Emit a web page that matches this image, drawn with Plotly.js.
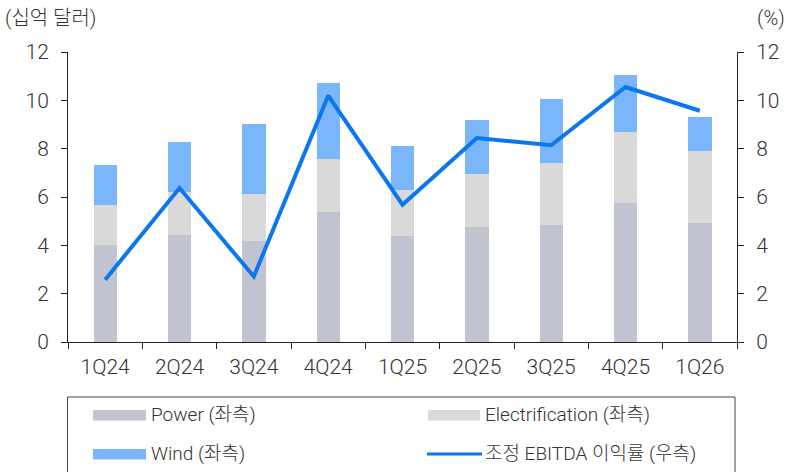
<!DOCTYPE html>
<html>
<head>
<meta charset="utf-8">
<script src="https://cdn.plot.ly/plotly-3.0.1.min.js"></script>
<style>html,body{margin:0;padding:0;background:#fff;}#chart{width:789px;height:472px;}</style>
</head>
<body>
<div id="chart"></div>
<script>
// ---- data ----
const categories = ['1Q24','2Q24','3Q24','4Q24','1Q25','2Q25','3Q25','4Q25','1Q26'];
const power = [4.00, 4.44, 4.19, 5.40, 4.40, 4.77, 4.85, 5.76, 4.94];
const electrification = [1.68, 1.78, 1.95, 2.18, 1.87, 2.18, 2.57, 2.93, 2.98];
const wind = [1.63, 2.07, 2.88, 3.12, 1.85, 2.22, 2.65, 2.36, 1.41];
const ebitdaMargin = [2.58, 6.37, 2.71, 10.19, 5.68, 8.44, 8.14, 10.55, 9.57];
const yTicks = [0, 2, 4, 6, 8, 10, 12];
const seriesNames = ['Power (좌측)', 'Electrification (좌측)', 'Wind (좌측)', '조정 EBITDA 이익률 (우측)'];
const leftTitle = '(십억 달러)';
const rightTitle = '(%)';

// ---- style ----
const FONT = 'Roboto, "Noto Sans CJK KR", "Noto Sans", sans-serif';
const TXT = '#333333';
const colors = {power: '#c1c4d0', elec: '#d9d9d9', wind: '#7ab6f9', line: '#0b77ef'};

const W = 789, H = 472;
const M = {l: 68, r: 52, t: 52, b: 130};
const PW = W - M.l - M.r, PH = H - M.t - M.b;
const px = x => (x - M.l) / PW;
const py = y => (H - M.b - y) / PH;

const traces = [
  {type: 'bar', x: categories, y: power, name: seriesNames[0], marker: {color: colors.power}, hoverinfo: 'y'},
  {type: 'bar', x: categories, y: electrification, name: seriesNames[1], marker: {color: colors.elec}, hoverinfo: 'y'},
  {type: 'bar', x: categories, y: wind, name: seriesNames[2], marker: {color: colors.wind}, hoverinfo: 'y'},
  {type: 'scatter', mode: 'lines', x: categories, y: ebitdaMargin, name: seriesNames[3], yaxis: 'y2',
   line: {color: colors.line, width: 4}, hoverinfo: 'y'}
];

// custom legend (two columns, wide swatches)
const shapes = [
  {type: 'rect', xref: 'paper', yref: 'paper', x0: px(67.5), x1: px(735), y0: py(397), y1: py(480),
   line: {color: '#444', width: 1}, fillcolor: 'rgba(0,0,0,0)'},
  {type: 'rect', xref: 'paper', yref: 'paper', x0: px(93), x1: px(146), y0: py(410), y1: py(420.5), line: {width: 0}, fillcolor: colors.power},
  {type: 'rect', xref: 'paper', yref: 'paper', x0: px(428), x1: px(480), y0: py(410), y1: py(420.5), line: {width: 0}, fillcolor: colors.elec},
  {type: 'rect', xref: 'paper', yref: 'paper', x0: px(93), x1: px(146), y0: py(449), y1: py(459.5), line: {width: 0}, fillcolor: colors.wind},
  {type: 'line', xref: 'paper', yref: 'paper', x0: px(427), x1: px(482), y0: py(454), y1: py(454), line: {color: colors.line, width: 3}}
];
const legFont = {family: FONT, size: 19, color: TXT, weight: 300};
const titleFont = {family: FONT, size: 20, color: TXT, weight: 300};
const annotations = [
  {xref: 'paper', yref: 'paper', x: px(149), y: py(414), xanchor: 'left', yanchor: 'middle', text: seriesNames[0], showarrow: false, font: legFont},
  {xref: 'paper', yref: 'paper', x: px(483), y: py(414), xanchor: 'left', yanchor: 'middle', text: seriesNames[1], showarrow: false, font: legFont},
  {xref: 'paper', yref: 'paper', x: px(149), y: py(453), xanchor: 'left', yanchor: 'middle', text: seriesNames[2], showarrow: false, font: legFont},
  {xref: 'paper', yref: 'paper', x: px(483), y: py(453), xanchor: 'left', yanchor: 'middle', text: seriesNames[3], showarrow: false, font: legFont},
  {xref: 'paper', yref: 'paper', x: px(3), y: py(18), xanchor: 'left', yanchor: 'middle', text: leftTitle, showarrow: false, font: titleFont},
  {xref: 'paper', yref: 'paper', x: px(787), y: py(18), xanchor: 'right', yanchor: 'middle', text: rightTitle, showarrow: false, font: titleFont}
];

const axisFont = {family: FONT, size: 21, color: TXT, weight: 300};
const layout = {
  width: W, height: H,
  margin: M,
  paper_bgcolor: '#fff', plot_bgcolor: '#fff',
  barmode: 'stack', bargap: 0.686,
  showlegend: false,
  font: {family: FONT, color: TXT},
  xaxis: {
    type: 'category', showgrid: false, zeroline: false,
    showline: true, linecolor: '#222', linewidth: 1,
    ticks: 'outside', tickson: 'boundaries', ticklen: 6, tickcolor: '#222', ticklabelstandoff: 6,
    tickfont: axisFont, fixedrange: true
  },
  yaxis: {
    range: [0, 12], tickvals: yTicks, showgrid: false, zeroline: false,
    showline: true, linecolor: '#222', linewidth: 1,
    ticks: 'outside', ticklen: 6, tickcolor: '#222', ticklabelstandoff: 8,
    tickfont: axisFont, fixedrange: true
  },
  yaxis2: {
    overlaying: 'y', side: 'right', range: [0, 12], tickvals: yTicks, showgrid: false, zeroline: false,
    showline: true, linecolor: '#222', linewidth: 1,
    ticks: 'outside', ticklen: 6, tickcolor: '#222', ticklabelstandoff: 8,
    tickfont: axisFont, fixedrange: true
  },
  shapes: shapes,
  annotations: annotations
};

Plotly.newPlot('chart', traces, layout, {displayModeBar: false, staticPlot: true});
</script>
</body>
</html>
